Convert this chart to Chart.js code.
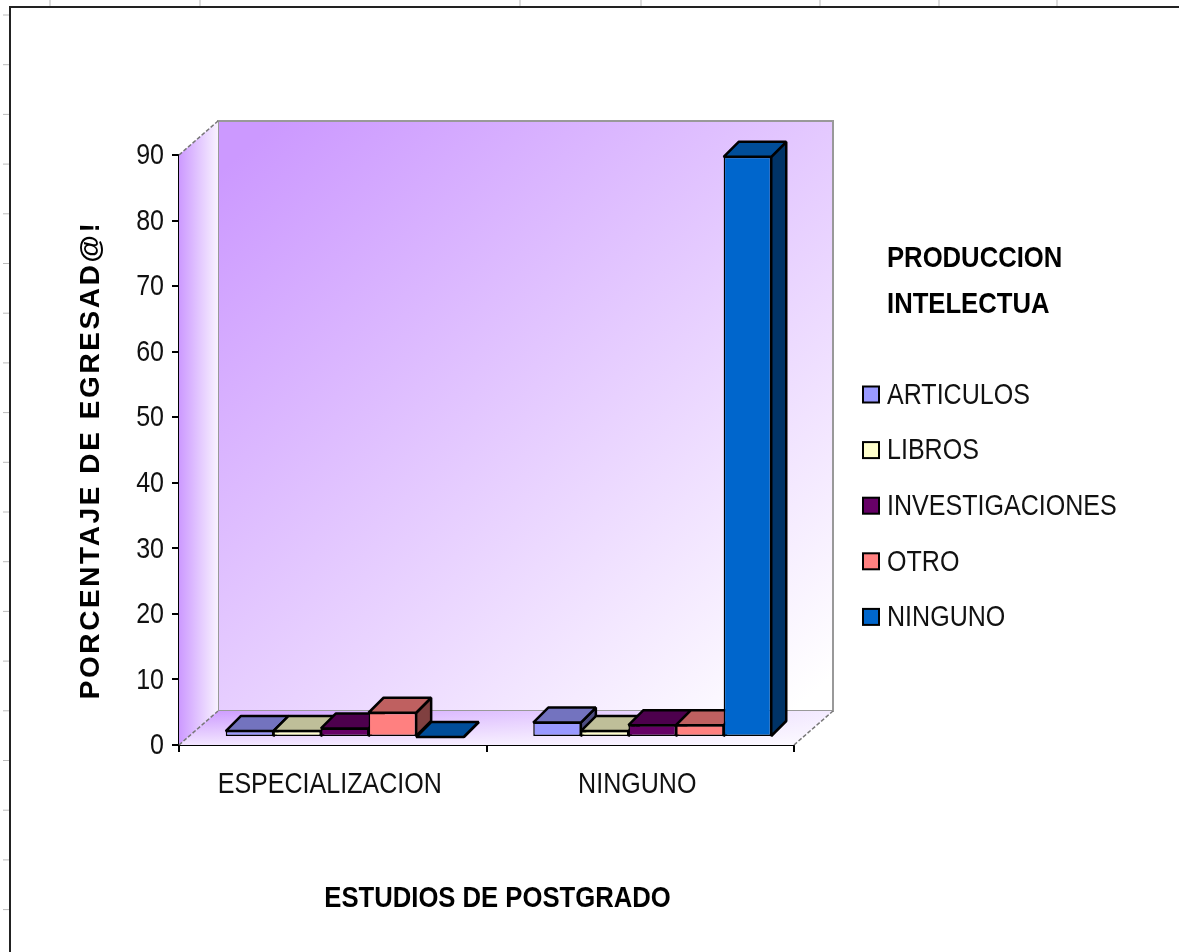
<!DOCTYPE html>
<html>
<head>
<meta charset="utf-8">
<style>
  html, body { margin: 0; padding: 0; background: #fff; }
  canvas { display: block; filter: blur(0.5px); }
</style>
<script src="https://cdn.jsdelivr.net/npm/chart.js@4"></script>
</head>
<body>
<canvas id="chart" width="1179" height="952"></canvas>
<script>
const categories = ["ESPECIALIZACION", "NINGUNO"];
const yTicks = [0, 10, 20, 30, 40, 50, 60, 70, 80, 90];

const articulos = [0.9, 2.2];
const libros = [0.9, 0.9];
const investigaciones = [1.3, 1.8];
const otro = [3.7, 1.8];
const ninguno = [0, 88.5];

const legendTitle = ["PRODUCCION", "INTELECTUA"];
const xTitle = "ESTUDIOS DE POSTGRADO";
const yTitle = "PORCENTAJE DE EGRESAD@!";

const FONT = '"Liberation Sans", Arial, sans-serif';
const WALL = { dx: 39, dy: 34 };     // depth of the box
const BAR = { dx: 15, dy: 15, ox: 12, oy: 8 };  // depth of a bar, and its shift from the front plane

const shade = (hex, f) => {
  const n = parseInt(hex.slice(1), 16);
  const c = s => Math.round(((n >> s) & 255) * f);
  return `rgb(${c(16)},${c(8)},${c(0)})`;
};

const poly = (ctx, pts, fill, stroke, lw) => {
  ctx.beginPath();
  pts.forEach((p, i) => i ? ctx.lineTo(p[0], p[1]) : ctx.moveTo(p[0], p[1]));
  ctx.closePath();
  if (fill) { ctx.fillStyle = fill; ctx.fill(); }
  if (stroke) { ctx.strokeStyle = stroke; ctx.lineWidth = lw; ctx.stroke(); }
};

// the original text is tall and narrow, so squeeze every string sideways
const squeezeText = ctx => {
  const raw = ctx.fillText;
  ctx.fillText = function (t, x, y) {
    const bold = ctx.font.includes('bold');
    this.save();
    this.translate(x, y);
    if (t === yTitle) {
      this.letterSpacing = '2.6px';
      this.translate(-10, 0);
    } else {
      if (t === xTitle) this.translate(11, 0);
      this.scale(bold ? 0.855 : 0.835, 1);
    }
    raw.call(this, t, 0, 0);
    this.restore();
  };
};

// sheet frame and the spreadsheet gridlines showing behind it
const framePlugin = {
  id: 'frame',
  beforeDraw(chart) {
    const ctx = chart.ctx;
    ctx.save();
    ctx.strokeStyle = '#bbb';
    ctx.lineWidth = 1;
    [50, 200, 520, 641, 820, 939, 1057].forEach(x => {
      ctx.beginPath(); ctx.moveTo(x, 0); ctx.lineTo(x, 7); ctx.stroke();
    });
    for (let y = 15; y < 952; y += 49.7) {
      ctx.beginPath(); ctx.moveTo(3, y); ctx.lineTo(9, y); ctx.stroke();
    }
    ctx.strokeStyle = '#222';
    ctx.lineWidth = 2;
    ctx.beginPath();
    ctx.moveTo(10, 952); ctx.lineTo(10, 7); ctx.lineTo(1179, 7);
    ctx.stroke();
    ctx.restore();
  }
};

// box walls + 3d bars, drawn left to right so the nearer faces cover the sides
const box3dPlugin = {
  id: 'box3d',
  beforeDatasetsDraw(chart) {
    const ctx = chart.ctx;
    const { left, right, top, bottom } = chart.chartArea;
    const { dx, dy } = WALL;
    ctx.save();

    let g = ctx.createLinearGradient(left + dx + 60, top - dy, right + dx - 40, bottom - dy);
    g.addColorStop(0, '#cc99ff');
    g.addColorStop(1, '#ffffff');
    poly(ctx, [[left + dx, top - dy], [right + dx, top - dy], [right + dx, bottom - dy], [left + dx, bottom - dy]], g, '#999', 2);

    g = ctx.createLinearGradient(left, 0, left + dx, 0);
    g.addColorStop(0, '#cc99ff');
    g.addColorStop(1, '#f8f2ff');
    poly(ctx, [[left, top], [left + dx, top - dy], [left + dx, bottom - dy], [left, bottom]], g);

    const floor = [[left, bottom], [left + dx, bottom - dy], [right + dx, bottom - dy], [right, bottom]];
    g = ctx.createLinearGradient(left, 0, right + dx, 0);
    g.addColorStop(0, '#cc99ff');
    g.addColorStop(1, '#f4ecff');
    poly(ctx, floor, g);
    g = ctx.createLinearGradient(0, bottom - dy, 0, bottom);
    g.addColorStop(0, 'rgba(255,255,255,0)');
    g.addColorStop(1, 'rgba(255,255,255,0.75)');
    poly(ctx, floor, g);

    // corner edges of the box
    ctx.setLineDash([4, 2]);
    ctx.strokeStyle = '#777';
    ctx.lineWidth = 1.5;
    [[left, top], [left, bottom], [right, bottom]].forEach(p => {
      ctx.beginPath(); ctx.moveTo(p[0], p[1]); ctx.lineTo(p[0] + dx, p[1] - dy); ctx.stroke();
    });
    ctx.setLineDash([]);

    ctx.translate(BAR.ox, -BAR.oy);
    ctx.lineJoin = 'bevel';
    chart.data.datasets.forEach((ds, i) => {
      chart.getDatasetMeta(i).data.forEach(bar => {
        const p = bar.getProps(['x', 'y', 'base', 'width'], true);
        const l = p.x - p.width / 2, r = p.x + p.width / 2;
        const t = p.y, b = p.base;
        poly(ctx, [[r, b], [r + BAR.dx, b - BAR.dy], [r + BAR.dx, t - BAR.dy], [r, t]], shade(ds.backgroundColor, 0.5), '#000', 2.5);
        poly(ctx, [[l, t], [l + BAR.dx, t - BAR.dy], [r + BAR.dx, t - BAR.dy], [r, t]], shade(ds.backgroundColor, 0.75), '#000', 2.5);
        bar.draw(ctx);
      });
    });
    ctx.restore();
    return false;
  },
  afterDraw(chart) {
    // legend on the right of the box
    const ctx = chart.ctx;
    ctx.save();
    ctx.textBaseline = 'middle';
    ctx.textAlign = 'left';
    ctx.fillStyle = '#000';
    ctx.font = 'bold 30px ' + FONT;
    legendTitle.forEach((line, i) => ctx.fillText(line, 887, 259 + i * 46));
    ctx.font = '30px ' + FONT;
    chart.data.datasets.forEach((ds, i) => {
      const y = 394.5 + i * 55.6;
      ctx.fillStyle = ds.backgroundColor;
      ctx.strokeStyle = '#000';
      ctx.lineWidth = 2;
      ctx.fillRect(863, y - 8, 16, 16);
      ctx.strokeRect(863, y - 8, 16, 16);
      ctx.fillStyle = '#111';
      ctx.fillText(ds.label, 887, y + 1);
    });
    ctx.restore();
  }
};

const makeSet = (label, data, color) => ({
  label, data,
  backgroundColor: color,
  borderColor: '#000',
  borderWidth: 1.5,
  borderSkipped: false,
  categoryPercentage: 0.774,
  barPercentage: 1
});

const canvasCtx = document.getElementById('chart').getContext('2d');
squeezeText(canvasCtx);

new Chart(canvasCtx, {
  type: 'bar',
  data: {
    labels: categories,
    datasets: [
      makeSet('ARTICULOS', articulos, '#9999ff'),
      makeSet('LIBROS', libros, '#ffffcc'),
      makeSet('INVESTIGACIONES', investigaciones, '#660066'),
      makeSet('OTRO', otro, '#ff8080'),
      makeSet('NINGUNO', ninguno, '#0066cc')
    ]
  },
  plugins: [framePlugin, box3dPlugin],
  options: {
    responsive: false,
    animation: false,
    layout: { padding: { left: 74, top: 155, right: 385, bottom: 35 } },
    plugins: { legend: { display: false }, tooltip: { enabled: false } },
    scales: {
      x: {
        afterFit: s => { s.height = 172; },
        grid: { offset: true, drawOnChartArea: false, drawTicks: true, tickLength: 7, color: '#000', lineWidth: 2 },
        border: { display: true, color: '#000', width: 2 },
        ticks: { color: '#111', padding: 15, labelOffset: -3, maxRotation: 0, autoSkip: false, font: { family: FONT, size: 30 } },
        title: { display: true, text: xTitle, color: '#000', font: { family: FONT, size: 30, weight: 'bold' }, padding: { top: 0, bottom: 0 } }
      },
      y: {
        min: 0,
        max: 90,
        afterFit: s => { s.width = 105; },
        afterBuildTicks: s => { s.ticks = yTicks.map(v => ({ value: v })); },
        grid: { drawOnChartArea: false, drawTicks: true, tickLength: 7, color: '#000', lineWidth: 2 },
        border: { display: true, color: '#000', width: 2 },
        ticks: { color: '#111', padding: 8, labelOffset: 1, font: { family: FONT, size: 30 } },
        title: { display: true, text: yTitle, color: '#000', font: { family: FONT, size: 28, weight: 'bold' }, padding: { top: 0, bottom: 0 } }
      }
    }
  }
});
</script>
</body>
</html>
